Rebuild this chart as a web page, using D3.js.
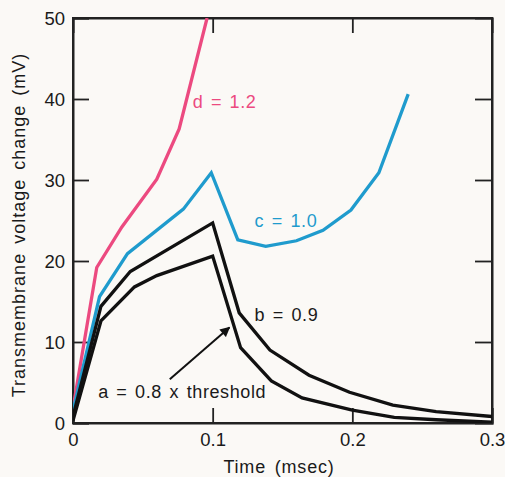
<!DOCTYPE html>
<html>
<head>
<meta charset="utf-8">
<script src="https://cdn.jsdelivr.net/npm/d3@7"></script>
<style>
  body { margin: 0; background: #fbf9f6; }
  text { font-family: "Liberation Sans", Arial, sans-serif; }
</style>
</head>
<body>
<div id="chart"></div>
<script>
// Define SVG area dimensions
var svgWidth = 505;
var svgHeight = 477;

var margin = { top: 18, right: 13, bottom: 54, left: 73 };
var chartWidth = svgWidth - margin.left - margin.right;
var chartHeight = svgHeight - margin.top - margin.bottom;

// data (time in msec, voltage in mV)
var timeD = [0, 0.017, 0.035, 0.06, 0.076, 0.096];
var voltD = [1.8, 19.2, 24.2, 30.1, 36.3, 50];

var timeC = [0, 0.019, 0.039, 0.079, 0.099, 0.118, 0.138, 0.16, 0.179, 0.199, 0.219, 0.24];
var voltC = [1.5, 15.6, 20.9, 26.4, 30.9, 22.6, 21.8, 22.5, 23.8, 26.3, 30.9, 40.6];

var timeB = [0, 0.02, 0.041, 0.1, 0.119, 0.141, 0.169, 0.198, 0.229, 0.26, 0.3];
var voltB = [0.8, 14.4, 18.7, 24.7, 13.6, 9.0, 5.9, 3.8, 2.2, 1.4, 0.8];

var timeA = [0, 0.02, 0.044, 0.06, 0.1, 0.12, 0.142, 0.164, 0.2, 0.23, 0.26, 0.3];
var voltA = [0.3, 12.6, 16.8, 18.2, 20.6, 9.3, 5.2, 3.1, 1.6, 0.7, 0.4, 0.1];

var xTicks = [0, 0.1, 0.2, 0.3];
var yTicks = [0, 10, 20, 30, 40, 50];

var series = [
  { t: timeD, v: voltD, color: "#ec4a80" },
  { t: timeC, v: voltC, color: "#1f9bcd" },
  { t: timeB, v: voltB, color: "#111111" },
  { t: timeA, v: voltA, color: "#111111" }
];

var svg = d3.select("#chart")
  .append("svg")
  .attr("width", svgWidth)
  .attr("height", svgHeight);

svg.append("rect")
  .attr("width", svgWidth)
  .attr("height", svgHeight)
  .attr("fill", "#fbf9f6");

var chartGroup = svg.append("g")
  .attr("transform", `translate(${margin.left}, ${margin.top})`);

var xScale = d3.scaleLinear().domain([0, 0.3]).range([0, chartWidth]);
var yScale = d3.scaleLinear().domain([0, 50]).range([chartHeight, 0]);

// clip so the steep pink line stops at the top border
svg.append("defs").append("clipPath")
  .attr("id", "plotclip")
  .append("rect")
  .attr("width", chartWidth)
  .attr("height", chartHeight);

// frame
chartGroup.append("rect")
  .attr("width", chartWidth)
  .attr("height", chartHeight)
  .attr("fill", "none")
  .attr("stroke", "#222")
  .attr("stroke-width", 2);

// axes, ticks pointing inward
var bottomAxis = d3.axisBottom(xScale).tickValues(xTicks)
  .tickSize(-15).tickPadding(10).tickFormat(d => d === 0 ? "0" : d3.format(".1f")(d));
var leftAxis = d3.axisLeft(yScale).tickValues(yTicks)
  .tickSize(-16).tickPadding(8).tickFormat(d3.format("d"));
var topAxis = d3.axisTop(xScale).tickValues([0.1, 0.2]).tickSize(-15).tickFormat("");
var rightAxis = d3.axisRight(yScale).tickValues([10, 20, 30, 40]).tickSize(-17).tickFormat("");

function styleAxis(g) {
  g.select(".domain").attr("stroke", "#222").attr("stroke-width", 2);
  g.selectAll(".tick line").attr("stroke", "#222").attr("stroke-width", 1.8);
  g.selectAll(".tick text")
    .attr("fill", "#1a1a1a")
    .attr("font-size", 18.5);
}

chartGroup.append("g")
  .attr("transform", `translate(0, ${chartHeight})`)
  .call(bottomAxis)
  .call(styleAxis);

chartGroup.append("g")
  .call(leftAxis)
  .call(styleAxis)
  .selectAll(".tick text").attr("dy", "0.36em");

chartGroup.append("g").call(topAxis).call(styleAxis);
chartGroup.append("g")
  .attr("transform", `translate(${chartWidth}, 0)`)
  .call(rightAxis).call(styleAxis);

// lines
var line = d3.line()
  .x(d => xScale(d[0]))
  .y(d => yScale(d[1]));

var linesGroup = chartGroup.append("g").attr("clip-path", "url(#plotclip)");
series.forEach(function(s) {
  linesGroup.append("path")
    .datum(d3.zip(s.t, s.v))
    .attr("d", line)
    .attr("fill", "none")
    .attr("stroke", s.color)
    .attr("stroke-width", 3.3)
    .attr("stroke-linejoin", "miter");
});

// curve labels
var labels = [
  { text: "d = 1.2", x: 0.0857, y: 38.9, color: "#ec4a80" },
  { text: "c = 1.0", x: 0.13, y: 24.2, color: "#1f9bcd" },
  { text: "b = 0.9", x: 0.13, y: 12.6, color: "#1a1a1a" },
  { text: "a = 0.8 x threshold", x: 0.018, y: 3.1, color: "#1a1a1a" }
];

chartGroup.selectAll(".curve-label")
  .data(labels)
  .enter()
  .append("text")
  .attr("class", "curve-label")
  .attr("x", d => xScale(d.x))
  .attr("y", d => yScale(d.y))
  .attr("fill", d => d.color)
  .attr("font-size", 18)
  .attr("letter-spacing", 0.6)
  .attr("word-spacing", 2)
  .text(d => d.text);

// arrow pointing from label a to its curve
svg.append("defs").append("marker")
  .attr("id", "arrowhead")
  .attr("viewBox", "0 0 10 10")
  .attr("refX", 9)
  .attr("refY", 5)
  .attr("markerWidth", 6)
  .attr("markerHeight", 5)
  .attr("orient", "auto")
  .append("path")
  .attr("d", "M0,0 L10,5 L0,10 z")
  .attr("fill", "#111");

chartGroup.append("line")
  .attr("x1", xScale(0.0693))
  .attr("y1", yScale(5.4))
  .attr("x2", xScale(0.112))
  .attr("y2", yScale(11.8))
  .attr("stroke", "#111")
  .attr("stroke-width", 2)
  .attr("marker-end", "url(#arrowhead)");

// axis titles
svg.append("text")
  .attr("x", 279)
  .attr("y", 473)
  .attr("text-anchor", "middle")
  .attr("font-size", 18)
  .attr("letter-spacing", 0.8)
  .attr("word-spacing", 3)
  .attr("fill", "#1a1a1a")
  .text("Time (msec)");

svg.append("text")
  .attr("transform", "translate(25, 225) rotate(-90)")
  .attr("text-anchor", "middle")
  .attr("font-size", 18)
  .attr("letter-spacing", 1)
  .attr("word-spacing", 3)
  .attr("fill", "#1a1a1a")
  .text("Transmembrane voltage change (mV)");
</script>
</body>
</html>
